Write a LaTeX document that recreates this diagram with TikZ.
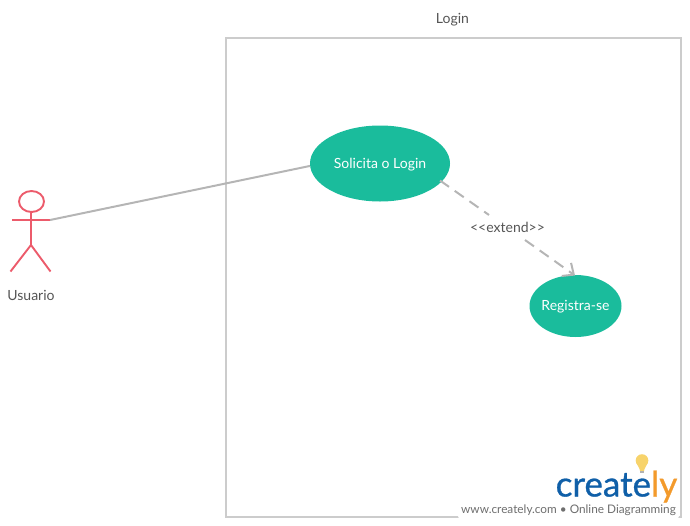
\documentclass[tikz,border=0pt]{standalone}
\usepackage{fontspec}
\setmainfont{Lato}
\newfontfamily\logofont[FakeBold=0.8]{Lato}
\usetikzlibrary{arrows.meta,shapes.geometric}
\definecolor{framegray}{HTML}{CCCCCC}
\definecolor{usecase}{HTML}{1ABC9C}
\definecolor{actorred}{HTML}{EC5B6B}
\definecolor{linegray}{HTML}{B5B5B5}
\definecolor{labelgray}{HTML}{555555}
\definecolor{logoblue}{HTML}{0F5FA8}
\definecolor{logoorange}{HTML}{F39A2B}
\definecolor{bulbyellow}{HTML}{F7D36B}
\tikzset{
  usecasenode/.style={ellipse, fill=usecase, text=white, inner xsep=-12pt, inner ysep=0pt, text height=11pt, text depth=2pt, font=\fontsize{14}{16}\selectfont},
  labelnode/.style={text=labelgray, inner sep=1pt, font=\fontsize{14}{16}\selectfont},
  actorline/.style={actorred, line width=1.9pt},
}
\begin{document}
\begin{tikzpicture}[x=1pt, y=-1pt]
  \useasboundingbox (0, 0) rectangle (690, 525);
  \draw[framegray, line width=2pt] (226, 37.5) rectangle (681, 517);
  % logo patch
  \fill[white, rounded corners=3pt] (458, 447) rectangle (679, 519);
  \node[labelnode] (title) at (452.5, 20) {Login};

  \node[usecasenode, minimum width=140pt, minimum height=76pt] (solicita) at (380, 163.5) {Solicita o Login};
  \node[usecasenode, minimum width=92pt, minimum height=62pt] (registra) at (575.5, 306) {Registra-se};

  % actor
  \draw[actorline] (31.5, 201.5) ellipse (12.5 and 10.5);
  \draw[actorline] (31, 212) -- (31, 245);
  \draw[actorline] (12, 220) -- (50, 220);
  \draw[actorline] (10.5, 271.5) -- (31, 245) -- (50.5, 271.5);
  \coordinate (hand) at (50, 220);
  \node[labelnode] (usuario) at (31, 295.5) {Usuario};

  \draw[linegray, line width=2pt] (hand) -- (solicita.182);
  \node[labelnode] (extend) at (507.5, 227.5) {{<}{<}extend{>}{>}};
  \coordinate (extendin) at (575, 275.5);
  \coordinate (extendout) at (440, 180.5);
  \draw[linegray, line width=2pt, dash pattern=on 11pt off 7pt] (extendout) -- (489, 215);
  \draw[linegray, line width=2pt, dash pattern=on 11pt off 7pt, -{Straight Barb[length=9pt,width=16pt]}] (525, 240) -- (extendin);

  % logo
  \fill[bulbyellow] (642, 460.5) circle (6.3);
  \fill[bulbyellow] (636.5, 463) -- (647.5, 463) -- (644.5, 469) -- (644, 471) -- (640, 471) -- (639.5, 469) -- cycle;
  \fill[gray!60] (640, 471) rectangle (644, 473);
  \node[anchor=base west, inner sep=0pt, text=logoblue, font=\logofont\fontsize{35}{38}\selectfont] (logo) at (555.5, 496.5) {create\textcolor{logoorange}{ly}};
  \node[anchor=base east, inner sep=0pt, text=labelgray!85, font=\fontsize{11.8}{14}\selectfont] (slogan) at (676, 513) {www.creately.com • Online Diagramming};
\end{tikzpicture}
\end{document}
